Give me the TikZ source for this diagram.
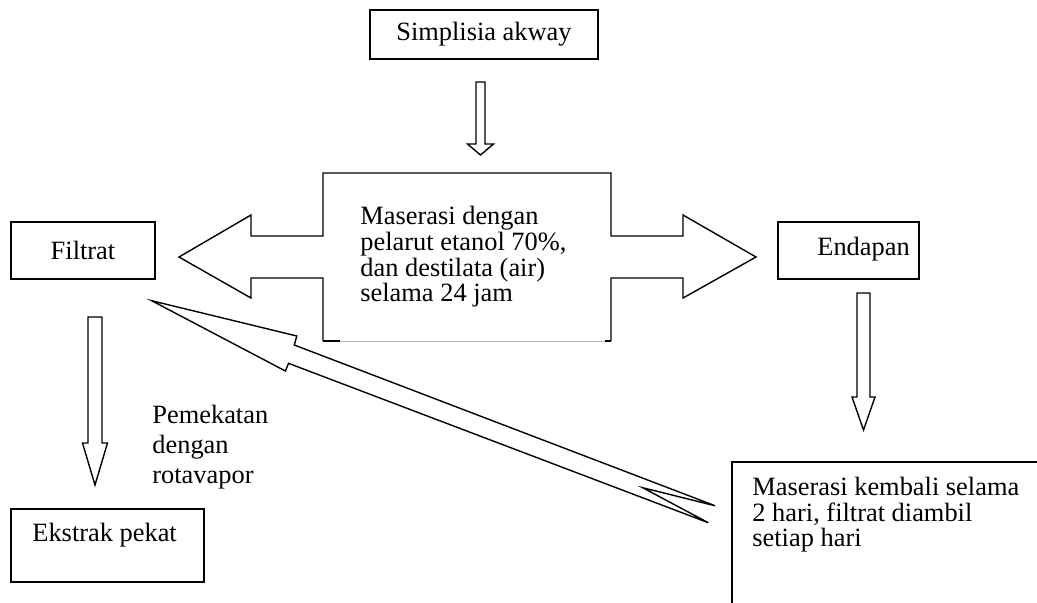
\documentclass[tikz,border=0pt]{standalone}
\usepackage{fontspec}
\setmainfont{Liberation Serif}
\usepackage{tikz}
\usetikzlibrary{calc}

\begin{document}
\begin{tikzpicture}[x=0.5pt,y=-0.5pt,
	box/.style={draw,line width=0.8pt,inner sep=0pt,font=\fontsize{13.2}{13}\selectfont},
	txt/.style={inner sep=0pt,align=left,font=\fontsize{13.2}{12.8}\selectfont},
	fat/.style={draw,line width=0.7pt,line join=miter}]
	% frame
	\useasboundingbox (0,0) rectangle (1037,602);
	\clip (0,0) rectangle (1037,602);
	
	% boxes
	\node[box,minimum width=114pt,minimum height=24.5pt] (simp) at (484,34.5) {Simplisia akway};
	\node[box,minimum width=72pt,minimum height=28.5pt] (filtrat) at (83,250.5) {Filtrat};
	\node[box,minimum width=70.5pt,minimum height=28.5pt] (endapan) at (848.5,250.5) {};
	\node[txt,anchor=west] (endapantxt) at (817,249) {Endapan};
	\node[box,minimum width=96.5pt,minimum height=36.5pt] (ekstrak) at (107.5,545.5) {};
	\node[txt,anchor=west] (ekstraktxt) at (32,535) {Ekstrak pekat};
	\node[box,anchor=north west,minimum width=170pt,minimum height=90pt] (kembali) at (731,461) {};
	\node[txt,anchor=west] (kembalitxt) at (752,515) {Maserasi kembali selama\\2 hari, filtrat diambil\\setiap hari};
	
	% maceration callout with two arrows
	\draw[fat] (323,341) -- (323,278) -- (251,278) -- (251,298) -- (179,257) -- (251,215) -- (251,236) -- (323,236)
		-- (323,173) -- (611,173) -- (611,236) -- (683,236) -- (683,215) -- (756,257) -- (683,298) -- (683,278)
		-- (611,278) -- (611,341);
	\draw[gray!60,line width=0.5pt] (340,341) -- (605,341);
	\draw[fat] (323,341) -- (340,341) (605,341) -- (611,341);
	\node[txt,anchor=west] (maserasi) at (360,257) {Maserasi dengan\\pelarut etanol 70\%,\\dan destilata (air)\\selama 24 jam};
	
	% down arrows: x, shaft half width, head half width, top, head, tip
	\foreach \xc/\sw/\hw/\ya/\yb/\yc in {480.5/4.5/13/82/144/155, 95/7/12.5/317/443/485, 863.5/6.5/11.5/293/397/430}{
		\draw[fat] ({\xc-\sw},\ya) -- ({\xc+\sw},\ya) -- ({\xc+\sw},\yb) -- ({\xc+\hw},\yb) -- (\xc,\yc)
			-- ({\xc-\hw},\yb) -- ({\xc-\sw},\yb) -- cycle;
	}
	
	% long return arrow back to the filtrate
	\draw[fat] (151.7,300.7) -- (296.8,336) -- (294.3,345) -- (715,505.7) -- (642.7,487.7) -- (708.3,522.7)
		-- (288.5,363.3) -- (285.4,371) -- cycle;
	
	% text
	\node[txt,anchor=west,font=\fontsize{13.2}{15}\selectfont] (pemekatan) at (152,447) {Pemekatan\\dengan\\rotavapor};
\end{tikzpicture}
\end{document}
